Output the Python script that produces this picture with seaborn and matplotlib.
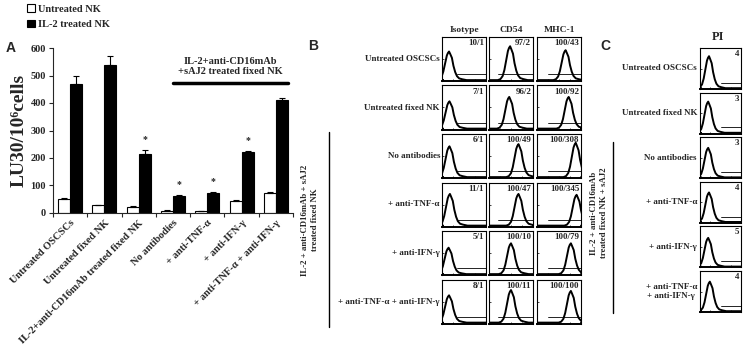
import numpy as np
import pandas as pd
import seaborn as sns
import matplotlib.pyplot as plt

sns.set_style('ticks')
plt.rcParams['font.family'] = ['Liberation Serif', 'DejaVu Serif']
plt.rcParams['font.weight'] = 'bold'
plt.rcParams['axes.labelweight'] = 'bold'

# ---- panel A data ----
groups = ['Untreated OSCSCs', 'Untreated fixed NK', 'IL-2+anti-CD16mAb treated fixed NK',
          'No antibodies', '+ anti-TNF-α', '+ anti-IFN-γ', '+ anti-TNF-α + anti-IFN-γ']
untreated_nk = [50, 28, 22, 8, 6, 45, 72]
untreated_err = [3, 2, 2, 2, 2, 1, 3]
il2_nk = [470, 537, 215, 60, 72, 222, 410]
il2_err = [28, 35, 14, 5, 4, 3, 7]
significant = [False, False, True, True, True, True, False]

# ---- panel B / C data ----
row_labels = ['Untreated OSCSCs', 'Untreated fixed NK', 'No antibodies',
              '+ anti-TNF-α', '+ anti-IFN-γ', '+ anti-TNF-α + anti-IFN-γ']
c_row_labels = ['Untreated OSCSCs', 'Untreated fixed NK', 'No antibodies',
                '+ anti-TNF-α', '+ anti-IFN-γ', '+ anti-TNF-α\n+ anti-IFN-γ']
b_columns = ['Isotype', 'CD54', 'MHC-1']
isotype_vals = ['10/1', '7/1', '6/1', '11/1', '5/1', '8/1']
cd54_vals = ['97/2', '96/2', '100/49', '100/47', '100/10', '100/11']
mhc1_vals = ['100/43', '100/92', '100/308', '100/345', '100/79', '100/100']
pi_vals = ['4', '3', '3', '4', '5', '4']
# peak position of each histogram (fraction of the log axis)
isotype_peak = [0.16, 0.17, 0.17, 0.18, 0.15, 0.16]
cd54_peak = [0.48, 0.46, 0.67, 0.67, 0.50, 0.50]
mhc1_peak = [0.65, 0.72, 0.88, 0.90, 0.77, 0.77]
pi_peak = [0.22, 0.20, 0.20, 0.22, 0.20, 0.24]
# peak height (fraction of the cell)
isotype_height = [0.65, 0.62, 0.70, 0.72, 0.60, 0.62]
cd54_height = [0.77, 0.72, 0.75, 0.72, 0.70, 0.74]
mhc1_height = [0.68, 0.72, 0.78, 0.70, 0.70, 0.72]
pi_height = [0.78, 0.76, 0.72, 0.72, 0.70, 0.72]
# histogram shape (offset from peak, relative count)
shape_dx = [-0.28, -0.22, -0.17, -0.13, -0.09, -0.05, -0.025, 0.0, 0.025, 0.065,
            0.10, 0.14, 0.18, 0.23, 0.30, 0.40]
shape_dy = [0.0, 0.03, 0.12, 0.30, 0.58, 0.86, 0.95, 1.0, 0.92, 0.78,
            0.50, 0.28, 0.14, 0.06, 0.03, 0.0]

W, H = 747, 348
fig = plt.figure(figsize=(W / 100, H / 100), dpi=100)


def px_axes(left, top, w, h):
    return fig.add_axes([left / W, 1 - (top + h) / H, w / W, h / H])


def ftext(x, y, s, **kw):
    fig.text(x / W, 1 - y / H, s, **kw)


# ================= panel A =================
ax = px_axes(53, 48, 240, 165)
df = pd.DataFrame({
    'group': groups * 2,
    'nk': ['Untreated NK'] * len(groups) + ['IL-2 treated NK'] * len(groups),
    'lu': untreated_nk + il2_nk,
})
sns.barplot(data=df, x='group', y='lu', hue='nk', palette=['white', 'black'],
            edgecolor='black', linewidth=0.8, width=0.7, errorbar=None, ax=ax)

for cont, vals, errs in zip(ax.containers, [untreated_nk, il2_nk], [untreated_err, il2_err]):
    xs = [p.get_x() + p.get_width() / 2 for p in cont]
    ax.errorbar(xs, vals, yerr=[np.zeros(len(vals)), errs], fmt='none',
                ecolor='black', elinewidth=0.8, capsize=2, capthick=0.8)

black_x = [p.get_x() + p.get_width() / 2 for p in ax.containers[1]]
for x, v, e, s in zip(black_x, il2_nk, il2_err, significant):
    if s:
        ax.text(x, v + e + 40, '*', ha='center', va='center', fontsize=7)

ax.set_ylim(0, 600)
ax.set_yticks(range(0, 601, 100))
ax.set_xlim(-0.5, len(groups) - 0.5)
ax.set_xticks(range(len(groups)))
ax.set_xticklabels(groups, rotation=45, ha='right', rotation_mode='anchor')
ax.set_xticks(np.arange(-0.5, len(groups), 1), minor=True)
ax.tick_params(axis='x', which='major', length=0, pad=4, labelsize=7.5)
ax.tick_params(axis='x', which='minor', length=3, width=0.8)
ax.tick_params(axis='y', length=3, width=0.8, labelsize=7.5, pad=2)
ax.set_xlabel('')
ax.set_ylabel('LU30/10⁶cells', fontsize=14, labelpad=2)
for sp in ['left', 'bottom']:
    ax.spines[sp].set_linewidth(0.8)
sns.despine(ax=ax)

ax.plot([3.0, 6.35], [473, 473], color='black', lw=2.5, clip_on=False)
ax.text(4.66, 533, 'IL-2+anti-CD16mAb\n+sAJ2 treated fixed NK', ha='center', va='center',
        fontsize=7.5, linespacing=1.25)

leg = ax.legend(loc='upper left', bbox_to_anchor=(20 / W, 1 + 3 / H), bbox_transform=fig.transFigure,
                frameon=False, fontsize=7.5, handlelength=0.7, handleheight=0.7,
                handletextpad=0.3, labelspacing=0.6, borderpad=0.2)
for t in leg.get_texts():
    t.set_fontweight('bold')

ftext(11, 48, 'A', fontsize=10, fontweight='bold', family='Liberation Sans', ha='center', va='center')


# ================= histogram helper =================
def draw_hist(axh, peak, height, label, gate_start):
    xs = [0.0, 0.02] + [peak + d for d in shape_dx] + [1.0]
    ys = [0.02, 0.02] + [0.02 + height * d for d in shape_dy] + [0.02]
    axh.plot(xs, ys, color='black', lw=1.4, clip_on=True)
    axh.plot([gate_start, 1.0], [0.15, 0.15], color='black', lw=0.6)
    axh.set_xlim(0, 1)
    axh.set_ylim(0, 1)
    axh.set_xticks([0, 0.25, 0.5, 0.75, 1.0])
    axh.set_yticks([0, 0.5, 1.0])
    axh.tick_params(length=1.5, width=0.6, direction='in', labelbottom=False, labelleft=False)
    for sp in axh.spines.values():
        sp.set_linewidth(0.8)
        sp.set_color('black')
    axh.spines['bottom'].set_linewidth(1.4)
    axh.text(0.96, 0.95, label, transform=axh.transAxes, ha='right', va='top', fontsize=6.5)


# ================= panel B =================
ftext(313, 46, 'B', fontsize=10, fontweight='bold', family='Liberation Sans', ha='center', va='center')
b_left = [442, 489, 537]
b_top0, b_pitch, b_w, b_h = 37, 48.5, 44, 44
b_peaks = [isotype_peak, cd54_peak, mhc1_peak]
b_heights = [isotype_height, cd54_height, mhc1_height]
b_labels = [isotype_vals, cd54_vals, mhc1_vals]
b_gate = [0.35, 0.2, 0.25]
for c, name in enumerate(b_columns):
    ftext(b_left[c] + b_w / 2, 30, name, fontsize=6.8, ha='center', va='center')
    for r in range(len(row_labels)):
        axh = px_axes(b_left[c], b_top0 + r * b_pitch, b_w, b_h)
        draw_hist(axh, b_peaks[c][r], b_heights[c][r], b_labels[c][r], b_gate[c])
for r, lab in enumerate(row_labels):
    ftext(440, b_top0 + r * b_pitch + b_h / 2, lab, fontsize=6.5, ha='right', va='center')
fig.add_artist(plt.Line2D([329 / W, 329 / W], [1 - 132 / H, 1 - 327 / H], color='black', lw=1.0))
ftext(310, 220, 'IL-2 + anti-CD16mAb + sAJ2\ntreated fixed NK', fontsize=6.3, rotation=90,
      ha='center', va='center', multialignment='center', linespacing=1.2)

# ================= panel C =================
ftext(605, 46, 'C', fontsize=10, fontweight='bold', family='Liberation Sans', ha='center', va='center')
c_left, c_top0, c_pitch, c_w, c_h = 700, 48, 44.6, 41, 41
ftext(c_left + c_w / 2 - 2, 37, 'PI', fontsize=9, ha='center', va='center')
for r in range(len(c_row_labels)):
    axh = px_axes(c_left, c_top0 + r * c_pitch, c_w, c_h)
    draw_hist(axh, pi_peak[r], pi_height[r], pi_vals[r], 0.5)
    ftext(697, c_top0 + r * c_pitch + c_h / 2, c_row_labels[r], fontsize=6.5, ha='right',
          va='center', multialignment='center', linespacing=1.1)
fig.add_artist(plt.Line2D([613 / W, 613 / W], [1 - 142 / H, 1 - 313 / H], color='black', lw=1.0))
ftext(599, 213, 'IL-2 + anti-CD16mAb\ntreated fixed NK + sAJ2', fontsize=6.3, rotation=90,
      ha='center', va='center', multialignment='center', linespacing=1.2)

fig.savefig('out.png', dpi=100)
